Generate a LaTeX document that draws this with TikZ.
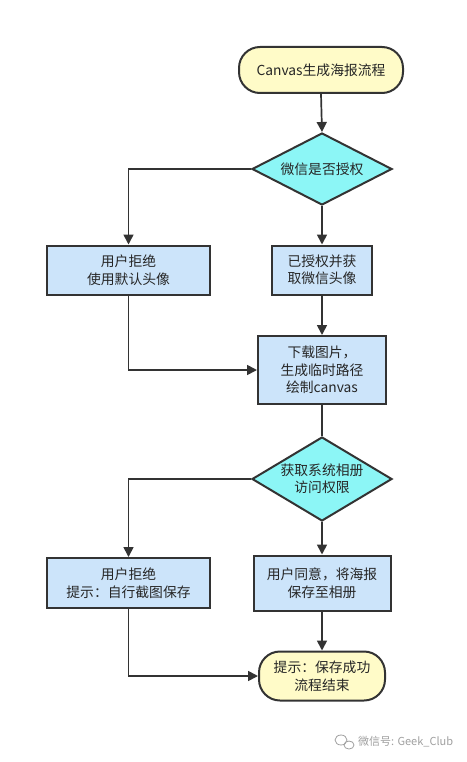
\documentclass[tikz,border=0pt]{standalone}
\usepackage{fontspec}
\setmainfont{Noto Sans CJK SC}
\usetikzlibrary{shapes.geometric,arrows.meta}
\definecolor{termfill}{HTML}{FFFBC8}
\definecolor{decfill}{HTML}{8CF6F6}
\definecolor{boxfill}{HTML}{CCE4FA}
\definecolor{edge}{HTML}{333333}
\definecolor{wm}{HTML}{A0A0A0}
\begin{document}
\begin{tikzpicture}[x=1pt,y=-1pt,
  font=\fontsize{13.8}{17.5}\selectfont,
  every node/.style={text=black!85, align=center, inner sep=0pt},
  term/.style={draw=edge, line width=2pt, fill=termfill, rounded corners=21pt},
  dec/.style={draw=edge, line width=2pt, fill=decfill, diamond, inner sep=0pt},
  proc/.style={draw=edge, line width=2pt, fill=boxfill},
  arr/.style={draw=edge, line width=1.7pt, -{Triangle[length=10pt,width=10pt]}},
  ln/.style={draw=edge, line width=1.7pt}
]
\useasboundingbox (0,0) rectangle (466,762);
\fill[white] (0,0) rectangle (466,762);

\node[term, minimum width=164pt, minimum height=46pt] (start) at (321,70) {Canvas生成海报流程};
\node[dec, minimum width=140pt, minimum height=72pt, aspect=1.94] (d1) at (322,169) {微信是否授权};
\node[proc, minimum width=163pt, minimum height=49pt] (lb1) at (128.5,270) {用户拒绝\\使用默认头像};
\node[proc, minimum width=100pt, minimum height=49pt] (rb1) at (322,270) {已授权并获\\取微信头像};
\node[proc, minimum width=128pt, minimum height=68pt] (b3) at (322,370) {下载图片，\\生成临时路径\\绘制canvas};
\node[dec, minimum width=140pt, minimum height=84pt, aspect=1.67] (d2) at (322,479) {获取系统相册\\访问权限};
\node[proc, minimum width=163pt, minimum height=50pt] (lb2) at (128.5,583) {用户拒绝\\提示：自行截图保存};
\node[proc, minimum width=137pt, minimum height=55pt] (rb2) at (322,583) {用户同意，将海报\\保存至相册};
\node[term, minimum width=126pt, minimum height=49pt] (end) at (322,676) {提示：保存成功\\流程结束};

\draw[arr] (start.south) -- (d1.north);
\draw[arr] (d1.west) -| (lb1.north);
\draw[arr] (d1.south) -- (rb1.north);
\draw[arr] (rb1.south) -- (b3.north);
\draw[arr] (lb1.south) |- (b3.west);
\draw[ln] (b3.south) -- (d2.north);
\draw[arr] (d2.west) -| (lb2.north);
\draw[arr] (d2.south) -- (rb2.north);
\draw[arr] (rb2.south) -- (end.north);
\draw[arr] (lb2.south) |- (end.west);

% watermark
\begin{scope}[draw=wm, line width=0.8pt]
\draw (341,740) ellipse [x radius=6pt, y radius=5pt];
\draw (349,745) ellipse [x radius=5pt, y radius=4pt];
\end{scope}
\node[text=wm, font=\fontsize{11}{13}\selectfont, anchor=west] (wmtext) at (358,742) {微信号: Geek\_Club};
\end{tikzpicture}
\end{document}
